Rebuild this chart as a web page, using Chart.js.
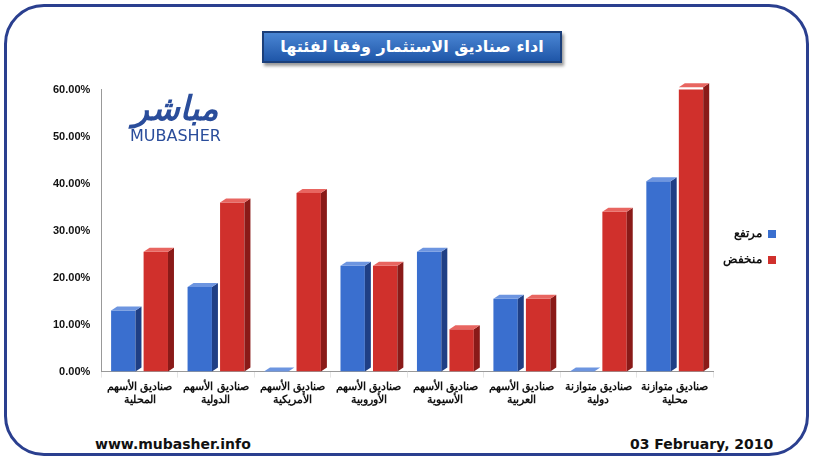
<!DOCTYPE html>
<html><head><meta charset="utf-8">
<script src="https://cdn.jsdelivr.net/npm/chart.js@4"></script>
<style>
body{margin:0;background:#fff;font-family:"DejaVu Sans",Arial,sans-serif}
#frame{position:absolute;left:4px;top:4px;width:805px;height:452px;border:3px solid #2a3f8f;border-radius:40px;box-sizing:border-box}
#title{position:absolute;left:262px;top:31px;width:296px;height:28px;background:linear-gradient(#4a86d4,#1f56a8);border:2px solid #1b3f7a;color:#fff;font:bold 16px "DejaVu Sans";text-align:center;line-height:28px;direction:rtl;box-shadow:2px 3px 3px #999;white-space:nowrap}
#logo{position:absolute;left:130px;top:90px;color:#2a4d9b;text-align:center;font-family:"DejaVu Sans"}
#wrap{position:absolute;left:50px;top:80px;width:750px;height:330px}
.foot{position:absolute;top:436px;font:bold 14px "DejaVu Sans";color:#111}
</style></head><body>
<div id="frame"></div>
<div id="title">اداء صناديق الاستثمار وفقا لفئتها</div>
<div id="wrap"><canvas id="c"></canvas></div>
<div id="logo"><div style="font:bold italic 34px 'DejaVu Sans';line-height:36px">مباشر</div><div style="font:16px 'DejaVu Sans'">MUBASHER</div></div>
<div class="foot" style="left:95px">www.mubasher.info</div>
<div class="foot" style="left:630px">03 February, 2010</div>
<script>
const categories = [
  ["صناديق الأسهم","المحلية"],["صناديق الأسهم","الدولية"],["صناديق الأسهم","الأمريكية"],["صناديق الأسهم","الأوروبية"],
  ["صناديق الأسهم","الأسيوية"],["صناديق الأسهم","العربية"],["صناديق متوازنة","دولية"],["صناديق متوازنة","محلية"]
];
const highValues = [13, 18, 0, 22.5, 25.5, 15.5, 0, 40.5];
const lowValues = [25.5, 36, 38, 22.5, 9, 15.5, 34, 60.5];

const side = {
  id:"side",
  afterDatasetsDraw(chart){
    const ctx = chart.ctx, dx = 6, dy = 4;
    chart.data.datasets.forEach((ds, i) => {
      chart.getDatasetMeta(i).data.forEach(b => {
        const l = b.x - b.width/2, r = b.x + b.width/2, t = b.y, bot = b.base;
        ctx.fillStyle = ds.sideColor;
        ctx.beginPath(); ctx.moveTo(r,t); ctx.lineTo(r+dx,t-dy); ctx.lineTo(r+dx,bot-dy); ctx.lineTo(r,bot); ctx.fill();
        ctx.fillStyle = ds.topColor;
        ctx.beginPath(); ctx.moveTo(l,t); ctx.lineTo(l+dx,t-dy); ctx.lineTo(r+dx,t-dy); ctx.lineTo(r,t); ctx.fill();
      });
    });
  }
};

new Chart(document.getElementById("c"), {
  type:"bar",
  data:{labels:categories, datasets:[
    {label:"مرتفع", data:highValues, backgroundColor:"#3a6fcf", sideColor:"#1f3f85", topColor:"#6d95e0", barPercentage:0.75, categoryPercentage:0.85},
    {label:"منخفض", data:lowValues, backgroundColor:"#d0302c", sideColor:"#8a1a18", topColor:"#e86560", barPercentage:0.75, categoryPercentage:0.85}
  ]},
  plugins:[side],
  options:{responsive:true, maintainAspectRatio:false, animation:false,
    layout:{padding:{top:4,right:10}},
    plugins:{legend:{position:"right", rtl:true, labels:{boxWidth:8, boxHeight:8, padding:14, font:{size:12, weight:"bold"}, color:"#111"}}, tooltip:{enabled:false}},
    scales:{
      y:{min:0, max:60, ticks:{stepSize:10, callback:v=>v.toFixed(2)+"%", font:{size:11, weight:"bold"}, color:"#111"}, grid:{display:false}, border:{color:"#999"}},
      x:{ticks:{font:{size:11, weight:"bold"}, color:"#111", maxRotation:0}, grid:{display:true, drawOnChartArea:false, tickLength:6}, border:{color:"#999"}}
    }}
});
</script></body></html>
